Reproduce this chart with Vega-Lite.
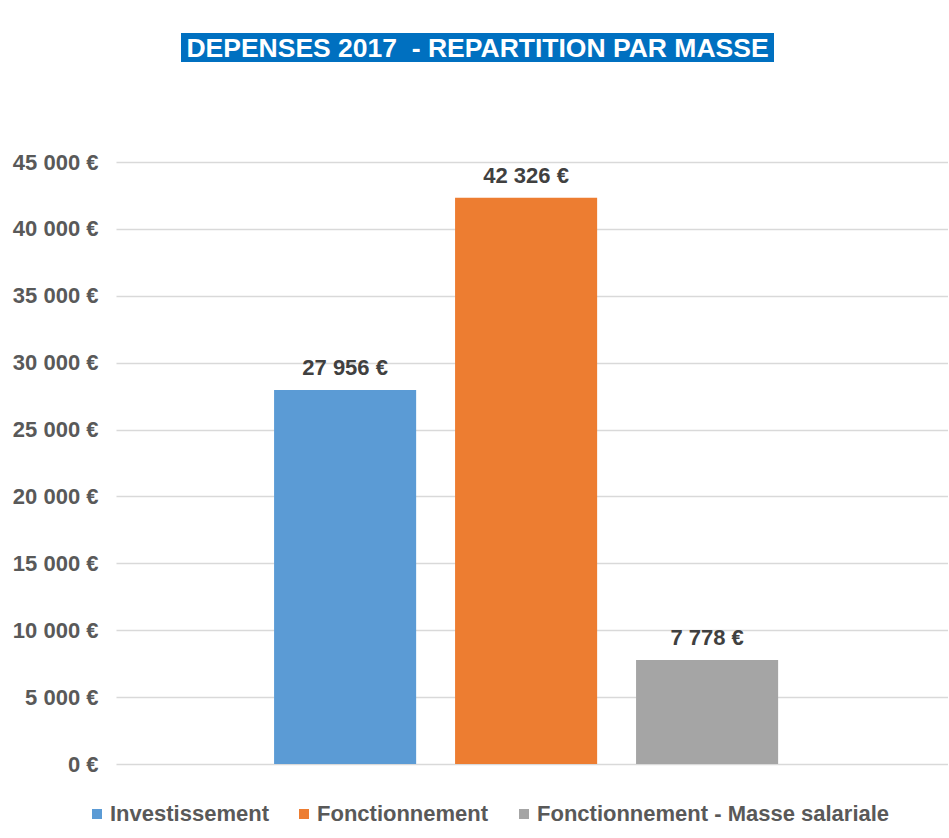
{
  "$schema": "https://vega.github.io/schema/vega-lite/v6.json",
  "background": "white",
  "padding": {"top": 33, "left": 12, "right": 0, "bottom": 0},
  "config": {
    "locale": {"number": {"decimal": ",", "thousands": " ", "grouping": [3], "currency": ["", " €"]}},
    "view": {"stroke": null},
    "font": "Liberation Sans"
  },
  "spacing": 89,
  "datasets": {
    "d": [
      {"cat": "Investissement", "v": 27956},
      {"cat": "Fonctionnement", "v": 42326},
      {"cat": "Fonctionnement - Masse salariale", "v": 7778}
    ]
  },
  "vconcat": [
    {
      "spacing": 0,
      "hconcat": [
        {
          "width": 65,
          "height": 29,
          "view": {"stroke": null},
          "data": {"values": []},
          "mark": {"type": "text"},
          "encoding": {}
        },
        {
          "width": 593,
          "height": 29,
          "view": {"fill": "#0070C0", "stroke": null},
          "data": {"values": [{"t": "DEPENSES 2017\u00a0 - REPARTITION PAR MASSE"}]},
          "mark": {"type": "text", "font": "Liberation Sans", "fontWeight": "bold", "fontSize": 26.5, "color": "white", "baseline": "middle", "align": "center", "dy": 1},
          "encoding": {"text": {"field": "t", "type": "nominal"}}
        }
      ]
    },
    {
      "width": 832,
      "height": 602,
      "data": {"name": "d"},
      "encoding": {
        "x": {"field": "cat", "type": "nominal", "sort": null, "scale": {"paddingInner": 0.215, "paddingOuter": 0.906, "align": 0.482}, "axis": null},
        "y": {"field": "v", "type": "quantitative", "scale": {"domain": [0, 45000]},
          "axis": {"title": null, "values": [0, 5000, 10000, 15000, 20000, 25000, 30000, 35000, 40000, 45000], "format": "$,.0f", "domain": false, "ticks": false, "labelPadding": 18, "labelFontSize": 22, "labelFontWeight": "bold", "labelColor": "#595959", "gridColor": "#d9d9d9", "gridWidth": 1.5}}
      },
      "layer": [
        {
          "mark": {"type": "bar"},
          "encoding": {
            "color": {"field": "cat", "type": "nominal", "sort": null,
              "scale": {"domain": ["Investissement", "Fonctionnement", "Fonctionnement - Masse salariale"], "range": ["#5B9BD5", "#ED7D31", "#A5A5A5"]},
              "legend": {"title": null, "orient": "none", "direction": "horizontal", "legendX": -30, "legendY": 770, "symbolType": "square", "symbolSize": 100, "symbolStrokeWidth": 0, "labelFontSize": 22, "labelFontWeight": "bold", "labelColor": "#595959", "labelOffset": 2, "labelLimit": 500, "columnPadding": 24}}
          }
        },
        {
          "mark": {"type": "text", "baseline": "bottom", "dy": -10, "fontSize": 22, "fontWeight": "bold", "color": "#404040"},
          "encoding": {"text": {"field": "v", "type": "quantitative", "format": "$,.0f"}}
        }
      ]
    }
  ]
}
